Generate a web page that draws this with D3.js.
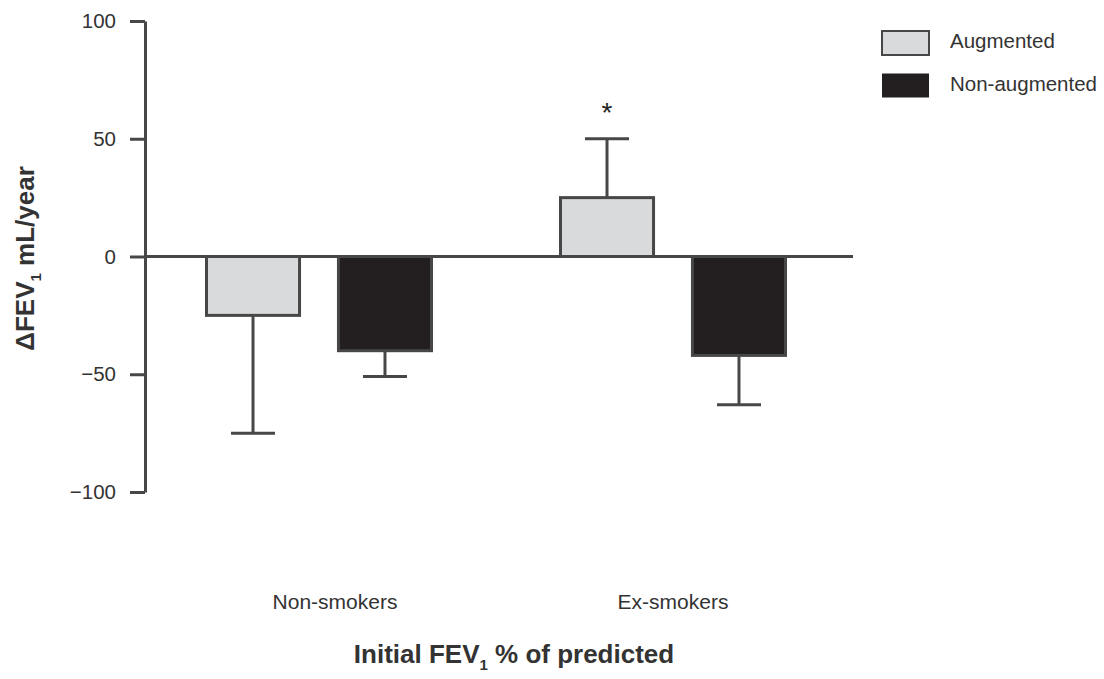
<!DOCTYPE html>
<html>
<head>
<meta charset="utf-8">
<script src="https://cdn.jsdelivr.net/npm/d3@7"></script>
<style>
  body { margin: 0; background: #fff; }
  text { font-family: "Liberation Sans", Arial, sans-serif; }
</style>
</head>
<body>
<div id="chart"></div>
<script>
const groups = ['Non-smokers', 'Ex-smokers']
const series = ['Augmented', 'Non-augmented']
const augmented = [-25, 25]
const augmentedErr = [-75, 50]
const nonAugmented = [-40, -42]
const nonAugmentedErr = [-51, -63]
const yTicks = [100, 50, 0, -50, -100]
const seriesColors = ['#d9dadc', '#231f20']

const w = 1104
const h = 679
const axisColor = '#474747'
const textColor = '#333'

const svg = d3.select('#chart').append('svg').attr('width', w).attr('height', h)

const y = d3.scaleLinear().domain([-100, 100]).range([492, 21])
const x0 = d3.scaleBand().domain(groups).range([142, 850])
const x1 = d3.scaleBand().domain(series)
    .range([x0.bandwidth() / 2 - 112.5, x0.bandwidth() / 2 + 112.5])
    .paddingInner(0.295)

const data = []
groups.forEach((g, i) => {
    data.push({ group: g, series: series[0], value: augmented[i], err: augmentedErr[i] })
    data.push({ group: g, series: series[1], value: nonAugmented[i], err: nonAugmentedErr[i] })
})

// y axis
const yAxis = svg.append('g')
    .attr('transform', 'translate(145,0)')
    .call(d3.axisLeft(y).tickValues(yTicks).tickSize(15).tickSizeOuter(0).tickPadding(14)
        .tickFormat(d => d < 0 ? '\u2212' + Math.abs(d) : d))
yAxis.select('.domain').attr('stroke', axisColor).attr('stroke-width', 3)
yAxis.selectAll('.tick line').attr('stroke', axisColor).attr('stroke-width', 3)
yAxis.selectAll('.tick text')
    .attr('fill', textColor)
    .attr('font-size', '20.5px')
    .attr('font-family', '"Liberation Sans", Arial, sans-serif')

// error bars
const bars = svg.append('g')
const errG = bars.selectAll('.err').data(data).enter().append('g')
errG.append('line')
    .attr('x1', d => x0(d.group) + x1(d.series) + x1.bandwidth() / 2)
    .attr('x2', d => x0(d.group) + x1(d.series) + x1.bandwidth() / 2)
    .attr('y1', d => y(d.value))
    .attr('y2', d => y(d.err))
    .attr('stroke', axisColor).attr('stroke-width', 3)
errG.append('line')
    .attr('x1', d => x0(d.group) + x1(d.series) + x1.bandwidth() / 2 - 22)
    .attr('x2', d => x0(d.group) + x1(d.series) + x1.bandwidth() / 2 + 22)
    .attr('y1', d => y(d.err))
    .attr('y2', d => y(d.err))
    .attr('stroke', axisColor).attr('stroke-width', 3)

// zero line
svg.append('line')
    .attr('x1', 145).attr('x2', 853)
    .attr('y1', y(0)).attr('y2', y(0))
    .attr('stroke', axisColor).attr('stroke-width', 3)

bars.selectAll('rect')
    .data(data).enter()
    .append('rect')
    .attr('x', d => x0(d.group) + x1(d.series))
    .attr('y', d => y(Math.max(0, d.value)))
    .attr('width', x1.bandwidth())
    .attr('height', d => Math.abs(y(d.value) - y(0)))
    .attr('fill', d => seriesColors[series.indexOf(d.series)])
    .attr('stroke', axisColor)
    .attr('stroke-width', 3)

// significance marker
svg.append('text')
    .attr('x', x0('Ex-smokers') + x1('Augmented') + x1.bandwidth() / 2)
    .attr('y', y(augmentedErr[1]) - 17)
    .attr('text-anchor', 'middle')
    .attr('fill', '#222')
    .attr('font-size', '28px')
    .text('*')

// category labels
svg.selectAll('.cat')
    .data(groups).enter()
    .append('text')
    .attr('x', d => x0(d) + x0.bandwidth() / 2 + (d === 'Non-smokers' ? 16 : 0))
    .attr('y', 609)
    .attr('text-anchor', 'middle')
    .attr('fill', textColor)
    .attr('font-size', '21px')
    .text(d => d)

// axis titles
const yTitle = svg.append('text')
    .attr('transform', `translate(34,${y(0) + 2}) rotate(-90)`)
    .attr('text-anchor', 'middle')
    .attr('fill', textColor)
    .attr('font-size', '26px')
    .attr('font-weight', 'bold')
yTitle.append('tspan').text('\u0394FEV')
yTitle.append('tspan').attr('font-size', '15px').attr('dy', 7).text('1')
yTitle.append('tspan').attr('dy', -7).text(' mL/year')

const xTitle = svg.append('text')
    .attr('x', 514).attr('y', 663)
    .attr('text-anchor', 'middle')
    .attr('fill', textColor)
    .attr('font-size', '26px')
    .attr('font-weight', 'bold')
xTitle.append('tspan').text('Initial FEV')
xTitle.append('tspan').attr('font-size', '15px').attr('dy', 7).text('1')
xTitle.append('tspan').attr('dy', -7).text(' % of predicted')

// Legend
const legend = svg.append('g').attr('transform', 'translate(882, 31)')
series.forEach((s, i) => {
    const row = legend.append('g').attr('transform', `translate(0, ${i * 42.5})`)
    row.append('rect').attr('width', 47).attr('height', 24)
        .attr('fill', seriesColors[i])
        .attr('stroke', i === 0 ? axisColor : 'none')
        .attr('stroke-width', 2)
    row.append('text').attr('x', 68).attr('y', 12)
        .attr('dominant-baseline', 'middle')
        .attr('fill', textColor).attr('font-size', '20.5px')
        .text(s)
})
</script>
</body>
</html>
